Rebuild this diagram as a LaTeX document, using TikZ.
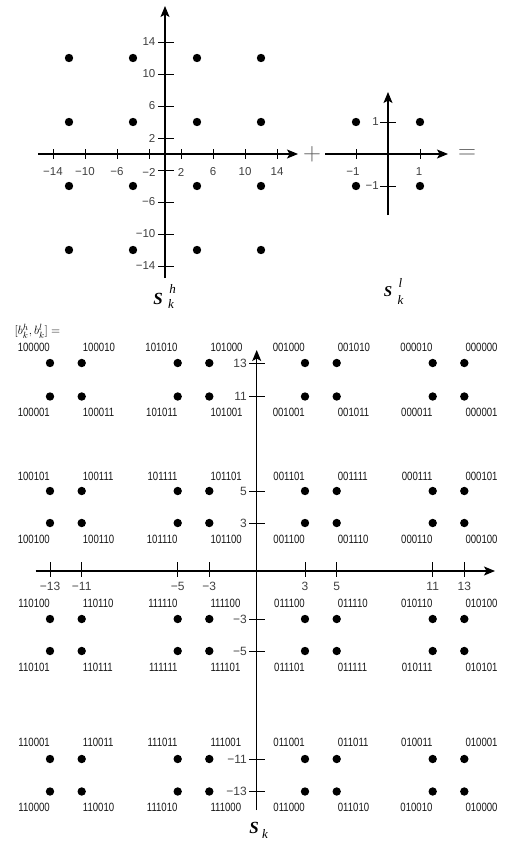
\documentclass[tikz,border=0pt]{standalone}
\usepackage{fontspec}
\setmainfont{Liberation Serif}
\newfontfamily\axisfont{Liberation Sans}
\newfontfamily\codefont[FakeStretch=0.8]{Liberation Sans}
\usetikzlibrary{arrows.meta}

\begin{document}
\begin{tikzpicture}[x=1pt,y=-1pt,
  axisarrow/.style={line width=1.3pt,-{Stealth[length=11pt,width=9pt,inset=2.5pt]}},
  tickline/.style={line width=1pt},
  ticklbl/.style={font=\axisfont\fontsize{11.5}{12}\selectfont,text=black!75,inner sep=0pt},
  bigticklbl/.style={font=\axisfont\fontsize{12}{12}\selectfont,text=black!75,inner sep=0pt},
  dot/.style={circle,fill=black,inner sep=0pt,minimum size=8.4pt},
  code/.style={font=\codefont\fontsize{12}{12}\selectfont,text=black!90,inner sep=0pt},
  svar/.style={font=\bfseries\itshape\fontsize{17}{17}\selectfont,inner sep=0pt,anchor=base},
  svarsmall/.style={font=\bfseries\itshape\fontsize{15}{15}\selectfont,inner sep=0pt,anchor=base},
  idx/.style={font=\itshape\fontsize{13}{13}\selectfont,inner sep=0pt,anchor=base},
  oper/.style={font=\fontsize{24}{24}\selectfont,text=black!65,inner sep=0pt}
]
\useasboundingbox (0,0) rectangle (506,849);

% ---------- high part s_k^h (grid step 8 per unit) ----------
\coordinate (hxl) at (38,154);  \coordinate (hxr) at (298,154);
\coordinate (hyb) at (165,278); \coordinate (hyt) at (165,6);
\draw[axisarrow] (hxl) -- (hxr);
\draw[axisarrow] (hyb) -- (hyt);
\foreach \v/\t in {-14/−14,-10/−10,-6/−6,-2/−2,2/2,6/6,10/10,14/14}{
  \draw[tickline] (165+8*\v,149) -- (165+8*\v,159);
  \node[ticklbl] (hx\v) at (165+8*\v,172) {\t};
}
\foreach \v/\t in {14/14,10/10,6/6,2/2,-6/−6,-10/−10,-14/−14}{
  \draw[tickline] (158,154-8*\v) -- (174,154-8*\v);
  \node[ticklbl,anchor=east] (hy\v) at (155.5,154-8*\v) {\t};
}
\draw[tickline] (158,170) -- (174,170);
\foreach \a [count=\i] in {-12,-4,4,12}
  \foreach \b [count=\j] in {-12,-4,4,12}
    \node[dot] (hd\i-\j) at (165+8*\a,154-8*\b) {};
\node[svar] (Sh) at (158,304) {S};
\node[idx] (Shsup) at (172.5,293) {h};
\node[idx] (Shsub) at (171,308) {k};

\node[oper] (plus) at (312,154) {$+$};

% ---------- low part s_k^l (grid step 32 per unit) ----------
\coordinate (lxl) at (325,154); \coordinate (lxr) at (448,154);
\coordinate (lyb) at (388,215); \coordinate (lyt) at (388,92);
\draw[axisarrow] (lxl) -- (lxr);
\draw[axisarrow] (lyb) -- (lyt);
\draw[tickline] (356,149) -- (356,159);
\draw[tickline] (420,149) -- (420,159);
\draw[tickline] (380,122) -- (396,122);
\draw[tickline] (380,186) -- (396,186);
\node[ticklbl] (lxm) at (353,172) {−1};
\node[ticklbl] (lxp) at (419,172) {1};
\node[ticklbl,anchor=east] (lyp) at (379,122) {1};
\node[ticklbl,anchor=east] (lym) at (379,186) {−1};
\node[dot] (ld1) at (356,122) {};
\node[dot] (ld2) at (420,122) {};
\node[dot] (ld3) at (356,186) {};
\node[dot] (ld4) at (420,186) {};
\node[svarsmall] (Sl) at (388,296) {S};
\node[idx] (Slsup) at (400.5,287) {l};
\node[idx] (Slsub) at (400.5,304) {k};

\node[oper] (equals) at (467,154) {$=$};

% ---------- combined constellation s_k ----------
\node[inner sep=0pt] (bits) at (37.5,331) {\fontsize{12.5}{12.5}\selectfont$\bigl[b_k^h, b_k^l\bigr]=$};

\coordinate (sxl) at (35.7,571); \coordinate (sxr) at (495,571);
\coordinate (syb) at (256.7,810); \coordinate (syt) at (256.7,350);
\draw[axisarrow] (sxl) -- (sxr);
\draw[axisarrow] (syb) -- (syt);
\foreach \xx/\t [count=\i] in {50/−13,81.7/−11,177.7/−5,209.3/−3,305/3,336.7/5,432.7/11,464.3/13}{
  \draw[tickline] (\xx,562) -- (\xx,577);
  \node[bigticklbl] (sx\i) at (\xx,586) {\t};
}
\foreach \yy/\t [count=\i] in {363/13,396.5/11,491/5,523/3,619/−3,651/−5,759/−11,791.5/−13}{
  \draw[tickline] (249,\yy) -- (265,\yy);
  \node[bigticklbl,anchor=east] (sy\i) at (247,\yy) {\t};
}
\foreach \xx [count=\i] in {50,81.7,177.7,209.3,305,336.7,432.7,464.3}
  \foreach \yy [count=\j] in {363,396.5,491,523,619,651,759,791.5}
    \node[dot] (sd\i-\j) at (\xx,\yy) {};

\def\colx{{50,81.7,177.7,209.3,305,336.7,432.7,464.3}}
\foreach \ly/\labs [count=\r] in {
  347/{100000,100010,101010,101000,001000,001010,000010,000000},
  412/{100001,100011,101011,101001,001001,001011,000011,000001},
  476/{100101,100111,101111,101101,001101,001111,000111,000101},
  539/{100100,100110,101110,101100,001100,001110,000110,000100},
  603/{110100,110110,111110,111100,011100,011110,010110,010100},
  667/{110101,110111,111111,111101,011101,011111,010111,010101},
  742/{110001,110011,111011,111001,011001,011011,010011,010001},
  807/{110000,110010,111010,111000,011000,011010,010010,010000}}{
  \foreach \lab [count=\c] in \labs {
    \pgfmathsetmacro\xx{\colx[\c-1]}
    \ifodd\c
      \node[code,anchor=east] (code\r-\c) at (\xx,\ly) {\lab};
    \else
      \node[code,anchor=west] (code\r-\c) at (\xx+1,\ly) {\lab};
    \fi
  }
}

\node[svar] (Sk) at (254,833) {S};
\node[idx] (Sksub) at (265,838) {k};
\end{tikzpicture}
\end{document}
